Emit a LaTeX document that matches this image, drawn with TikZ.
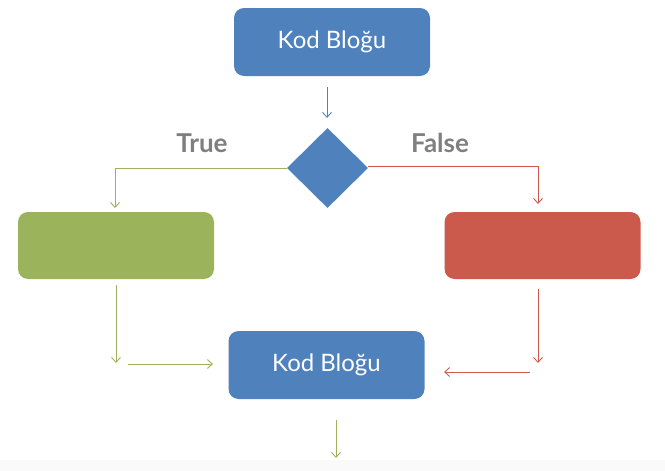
\documentclass[tikz,border=0pt]{standalone}
\usepackage{fontspec}
\setmainfont{Lato}
\usetikzlibrary{shapes.geometric,arrows.meta}

\definecolor{kblue}{HTML}{4F81BD}
\definecolor{kgreen}{HTML}{9BB35A}
\definecolor{kred}{HTML}{CB5A4C}
\definecolor{kgray}{HTML}{7F7F7F}

\begin{document}
\begin{tikzpicture}[x=1pt,y=-1pt,
        box/.style={rectangle,rounded corners=10pt,minimum width=196pt,minimum height=68pt,text=white,font=\fontsize{24}{27}\selectfont},
        cond/.style={diamond,fill=kblue,minimum width=81pt,minimum height=80pt,inner sep=0pt},
        lbl/.style={text=kgray,font=\fontsize{26}{29}\selectfont\bfseries},
        arr/.style={line width=0.9pt,-{Straight Barb[length=5pt,width=9pt]}}]
        \useasboundingbox (0,0) rectangle (665,471);
        \fill[black!2] (0,460) rectangle (665,471);

        \node[box,fill=kblue] (top) at (332,42) {Kod Bloğu};
        \node[cond] (dec) at (327.5,168) {};
        \node[box,fill=kgreen,minimum height=67pt] (yes) at (116,245.5) {};
        \node[box,fill=kred,minimum height=67pt] (no) at (542.5,245.5) {};
        \node[box,fill=kblue] (bot) at (326.5,365) {Kod Bloğu};
        \node[lbl] (true) at (202,143) {True};
        \node[lbl] (false) at (440,143) {False};

        \coordinate (a1) at (327,87);
        \coordinate (a2) at (327,118);
        \coordinate (t1) at (115,208);
        \coordinate (f1) at (538,204);
        \coordinate (g1) at (116,285);
        \coordinate (g2) at (116,363);
        \coordinate (g3) at (128,364);
        \coordinate (g4) at (213,364);
        \coordinate (r1) at (538,289);
        \coordinate (r2) at (538,363);
        \coordinate (r3) at (530,372);
        \coordinate (r4) at (444,372);
        \coordinate (b1) at (336,420);
        \coordinate (b2) at (336,458);

        \draw[arr,kblue] (a1) -- (a2);
        \draw[arr,kgreen] (dec.west) -| (t1);
        \draw[arr,kred] ([yshift=2pt]dec.east) -| (f1);
        \draw[arr,kgreen] (g1) -- (g2);
        \draw[arr,kgreen] (g3) -- (g4);
        \draw[arr,kred] (r1) -- (r2);
        \draw[arr,kred] (r3) -- (r4);
        \draw[arr,kgreen] (b1) -- (b2);
    \end{tikzpicture}
\end{document}
